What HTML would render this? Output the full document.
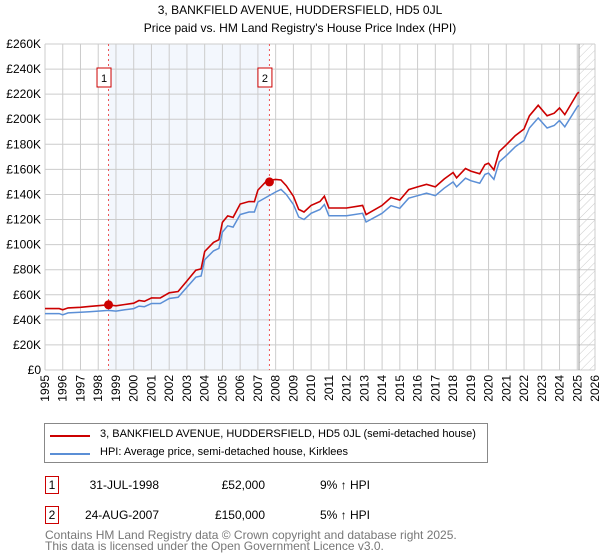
<!DOCTYPE html>
<html><head><meta charset="utf-8"><style>
body{margin:0;background:#fff;font-family:"Liberation Sans","DejaVu Sans",sans-serif;}
#wrap{position:relative;width:600px;height:560px;overflow:hidden}
.t{position:absolute;font-size:12px;color:#000;white-space:nowrap}
</style></head><body><div id="wrap">
<div class="t" style="left:0;width:600px;text-align:center;top:3px">3, BANKFIELD AVENUE, HUDDERSFIELD, HD5 0JL</div>
<div class="t" style="left:0;width:600px;text-align:center;top:21px">Price paid vs. HM Land Registry's House Price Index (HPI)</div>
<svg id="chart" width="600" height="420" style="position:absolute;left:0;top:0"></svg>
<div style="position:absolute;left:44px;top:423px;width:444px;height:40px;border:1px solid #888;box-sizing:border-box">
 <div style="position:absolute;left:5px;top:11px;width:40px;height:2px;background:#cc0000"></div>
 <div class="t" style="left:55px;top:4px;font-size:11px">3, BANKFIELD AVENUE, HUDDERSFIELD, HD5 0JL (semi-detached house)</div>
 <div style="position:absolute;left:5px;top:29px;width:40px;height:2px;background:#5b8fd6"></div>
 <div class="t" style="left:55px;top:22px;font-size:11px">HPI: Average price, semi-detached house, Kirklees</div>
</div>
<div>
 <div class="t" style="left:45px;top:476px;width:14px;height:18px;border:1px solid #cc0000;box-sizing:border-box;text-align:center;line-height:16px">1</div>
 <div class="t" style="left:80px;width:79px;text-align:right;top:478px">31-JUL-1998</div>
 <div class="t" style="left:180px;width:85px;text-align:right;top:478px">£52,000</div>
 <div class="t" style="left:320px;top:478px">9% ↑ HPI</div>
</div>
<div>
 <div class="t" style="left:45px;top:506px;width:14px;height:18px;border:1px solid #cc0000;box-sizing:border-box;text-align:center;line-height:16px">2</div>
 <div class="t" style="left:80px;width:79px;text-align:right;top:508px">24-AUG-2007</div>
 <div class="t" style="left:180px;width:85px;text-align:right;top:508px">£150,000</div>
 <div class="t" style="left:320px;top:508px">5% ↑ HPI</div>
</div>
<div class="t" style="left:45px;top:530px;color:#777;font-size:12px;line-height:11px">Contains HM Land Registry data © Crown copyright and database right 2025.<br>This data is licensed under the Open Government Licence v3.0.</div>
</div>
<script>
const hpiYears=[1995,1995.8,1996,1996.3,1997,1997.5,1998,1998.58,1999,1999.5,2000,2000.3,2000.6,2001,2001.5,2002,2002.5,2003,2003.5,2003.8,2004,2004.5,2004.8,2005,2005.3,2005.6,2006,2006.5,2006.8,2007,2007.5,2008,2008.3,2008.6,2009,2009.3,2009.6,2010,2010.5,2010.75,2011,2012,2012.9,2013.1,2014,2014.5,2015,2015.5,2016,2016.5,2017,2017.5,2018,2018.2,2018.7,2019,2019.5,2019.8,2020,2020.3,2020.6,2021,2021.5,2022,2022.3,2022.8,2023.3,2023.7,2024,2024.3,2025,2025.1];
const hpiValues=[45,45,44,45.5,46,46.5,47,47.5,47,48,49,51,50.5,53,53,57,58,66,74,75,88,95,97,110,115,114,124,126,126,134,138,142,144,140,132,122,120,125,128,132,123,123,125,118,125,131,129,137,139,141,139,145,150,146,153,151,149,156,157,152,166,171,178,183,193,201,193,195,199,194,210,211];
const ppYears=hpiYears;
const ppValues=[49,49,48,49.5,50,50.7,51.3,52,51.2,52.2,53.3,55.4,54.8,57.5,57.4,61.6,62.6,71,79.6,80.6,94.5,101.8,103.9,117.7,122.9,121.7,132.4,134.4,134.2,143.5,151,152,151.5,147,138.6,128.1,126,131.3,134.4,138.6,129.2,129.2,131.3,123.9,131.3,137.6,135.5,143.9,146,148.1,146,152.3,157.5,153.3,160.7,158.6,156.5,163.8,164.9,159.6,174.3,179.6,186.9,192.2,202.7,211.1,202.7,204.8,209,203.7,220.5,221.6];
const yTickValues=[0,20,40,60,80,100,120,140,160,180,200,220,240,260];
const yTickLabels=["£0","£20K","£40K","£60K","£80K","£100K","£120K","£140K","£160K","£180K","£200K","£220K","£240K","£260K"];
const xTickYears=[1995,1996,1997,1998,1999,2000,2001,2002,2003,2004,2005,2006,2007,2008,2009,2010,2011,2012,2013,2014,2015,2016,2017,2018,2019,2020,2021,2022,2023,2024,2025,2026];
const saleYears=[1998.58,2007.65];
const saleValues=[52,150];
const saleLabels=["1","2"];
const NS="http://www.w3.org/2000/svg",svg=document.getElementById('chart');
const X0=45,X1=595,Y0=370,Y1=44;
const x=t=>X0+(t-1995)*(X1-X0)/31;
const y=v=>Y0-v/260*(Y0-Y1);
function mk(tag,attrs){const e=document.createElementNS(NS,tag);for(const k in attrs)e.setAttribute(k,attrs[k]);svg.appendChild(e);return e;}
let e=mk('rect',{x:x(saleYears[0]),y:Y1,width:x(saleYears[1])-x(saleYears[0]),height:Y0-Y1,fill:'#f3f7fd'});


const defs=mk('defs',{});
defs.innerHTML='<pattern id="hatch" width="6" height="6" patternUnits="userSpaceOnUse" patternTransform="rotate(45)"><line x1="0" y1="0" x2="0" y2="6" stroke="#ccc" stroke-width="1"/></pattern>';
e=mk('rect',{x:x(2025.1),y:Y1,width:X1-x(2025.1),height:Y0-Y1,fill:'url(#hatch)'});


xTickYears.forEach(t=>{const l=mk('line',{x1:x(t),x2:x(t),y1:Y1,y2:Y0,stroke:'#cccccc','stroke-width':1});


const tx=mk('text',{x:0,y:0,transform:`translate(${x(t)+4},${Y0+5}) rotate(-90)`,'text-anchor':'end','font-size':12,'font-family':'Liberation Sans, sans-serif'});tx.textContent=t;

});
yTickValues.forEach((v,i)=>{const l=mk('line',{x1:X0,x2:X1,y1:y(v),y2:y(v),stroke:'#cccccc','stroke-width':1});


const tx=mk('text',{x:X0-4,y:y(v)+4,'text-anchor':'end','font-size':12,'font-family':'Liberation Sans, sans-serif'});tx.textContent=yTickLabels[i];

});
e=mk('line',{x1:x(2025.1),x2:x(2025.1),y1:Y1,y2:Y0,stroke:'#999','stroke-width':1});


saleYears.forEach((t,i)=>{const l=mk('line',{x1:x(t),x2:x(t),y1:Y1,y2:Y0,stroke:'#ee5555','stroke-width':1,'stroke-dasharray':'2,3'});


const r=mk('rect',{x:x(t)-11.5,y:68,width:14,height:19,fill:'#fff',stroke:'#cc0000','stroke-width':1});


const tx=mk('text',{x:x(t)-4.5,y:82,'text-anchor':'middle','font-size':11,'font-family':'Liberation Sans, sans-serif'});tx.textContent=saleLabels[i];

});
const path=(xs,vs)=>xs.map((t,i)=>(i?'L':'M')+x(t).toFixed(1)+','+y(vs[i]).toFixed(1)).join('');
e=mk('path',{d:path(hpiYears,hpiValues),fill:'none',stroke:'#5b8fd6','stroke-width':1.5});


e=mk('path',{d:path(ppYears,ppValues),fill:'none',stroke:'#cc0000','stroke-width':1.6});


saleYears.forEach((t,i)=>{const c=mk('circle',{cx:x(t),cy:y(saleValues[i]),r:4.5,fill:'#cc0000'});

});
</script></body></html>
